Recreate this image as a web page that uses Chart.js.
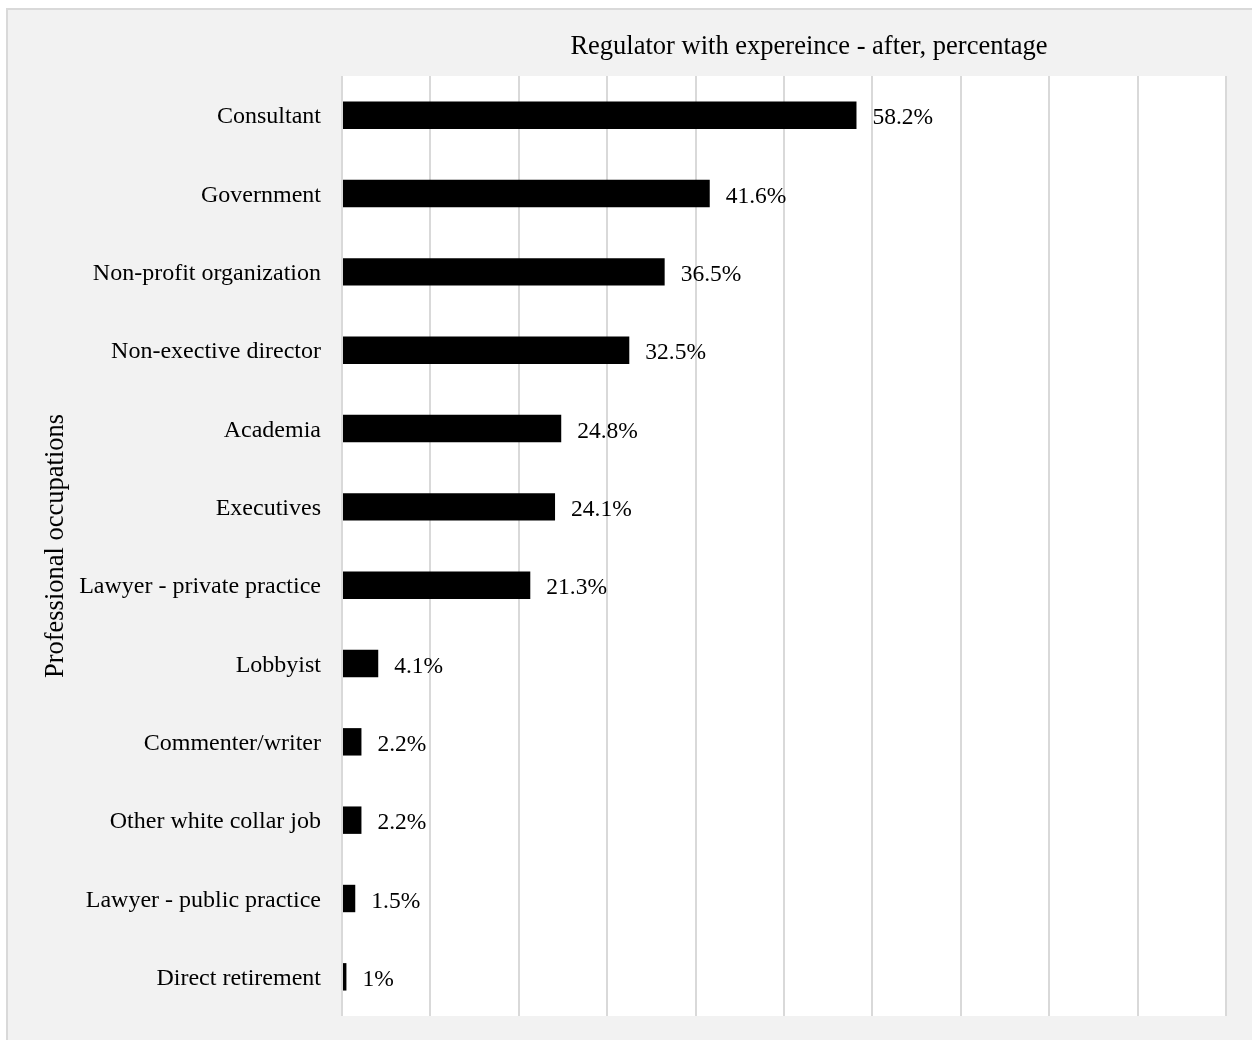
<!DOCTYPE html>
<html>
<head>
<meta charset="utf-8">
<script src="https://cdn.jsdelivr.net/npm/chart.js@4/dist/chart.umd.min.js"></script>
<style>
  html, body { margin: 0; padding: 0; background: #fff; }
  body { width: 1252px; height: 1040px; position: relative; overflow: hidden; }
  #frame {
    position: absolute; left: 6px; top: 8px; width: 1300px; height: 1100px;
    background: #f2f2f2; border-left: 2px solid #d9d9d9; border-top: 2px solid #d9d9d9;
  }
  #wrap { position: absolute; left: 0; top: 0; width: 1252px; height: 1040px; }
</style>
</head>
<body>
<div id="frame"></div>
<div id="wrap"><canvas id="chart"></canvas></div>
<script>
var occupations = ['Consultant', 'Government', 'Non-profit organization', 'Non-exective director',
  'Academia', 'Executives', 'Lawyer - private practice', 'Lobbyist', 'Commenter/writer',
  'Other white collar job', 'Lawyer - public practice', 'Direct retirement'];
var shares = [58.2, 41.6, 36.5, 32.5, 24.8, 24.1, 21.3, 4.1, 2.2, 2.2, 1.5, 0.5];
var shareLabels = ['58.2%', '41.6%', '36.5%', '32.5%', '24.8%', '24.1%', '21.3%', '4.1%', '2.2%', '2.2%', '1.5%', '1%'];
var chartTitle = 'Regulator with expereince - after, percentage';
var axisTitle = 'Professional occupations';

var serif = '"Liberation Serif", "Times New Roman", serif';
Chart.defaults.font.family = serif;
Chart.defaults.color = '#000';

// white plot area + bar labels + title
var decor = {
  id: 'decor',
  beforeDraw: function (chart) {
    var a = chart.chartArea, ctx = chart.ctx;
    ctx.save();
    ctx.fillStyle = '#fff';
    ctx.fillRect(a.left, a.top, a.right - a.left, a.bottom - a.top);
    ctx.restore();
  },
  afterDatasetsDraw: function (chart) {
    var ctx = chart.ctx;
    var bars = chart.getDatasetMeta(0).data;
    ctx.save();
    ctx.font = '23.5px ' + serif;
    ctx.fillStyle = '#000';
    ctx.textBaseline = 'middle';
    ctx.textAlign = 'left';
    bars.forEach(function (bar, i) {
      ctx.fillText(shareLabels[i], bar.x + 16, bar.y + 3);
    });
    ctx.font = '26.5px ' + serif;
    ctx.textAlign = 'center';
    ctx.textBaseline = 'alphabetic';
    var a = chart.chartArea;
    ctx.fillText(chartTitle, (a.left + a.right) / 2 + 25, a.top - 22);
    ctx.restore();
  }
};

new Chart(document.getElementById('chart'), {
  type: 'bar',
  data: {
    labels: occupations,
    datasets: [{
      data: shares,
      backgroundColor: '#000',
      borderWidth: 0,
      categoryPercentage: 1,
      barPercentage: 0.35
    }]
  },
  options: {
    indexAxis: 'y',
    responsive: true,
    maintainAspectRatio: false,
    animation: false,
    layout: { padding: { left: 0, top: 76, right: 26, bottom: 24 } },
    scales: {
      x: {
        min: 0,
        max: 100,
        ticks: { display: false, stepSize: 10 },
        grid: { color: '#d9d9d9', lineWidth: 2, drawTicks: false },
        border: { display: false },
        afterFit: function (scale) { scale.height = 0; scale.paddingLeft = 0; scale.paddingRight = 0; }
      },
      y: {
        grid: { display: false, drawTicks: false },
        border: { display: false },
        ticks: { padding: 21, labelOffset: 2, font: { size: 24 }, color: '#000' },
        title: { display: true, text: axisTitle, font: { size: 26.5 }, padding: { top: 40 }, color: '#000' },
        afterFit: function (scale) { scale.width = 342; scale.paddingTop = 0; scale.paddingBottom = 0; }
      }
    },
    plugins: {
      legend: { display: false },
      tooltip: { enabled: false }
    }
  },
  plugins: [decor]
});
</script>
</body>
</html>
